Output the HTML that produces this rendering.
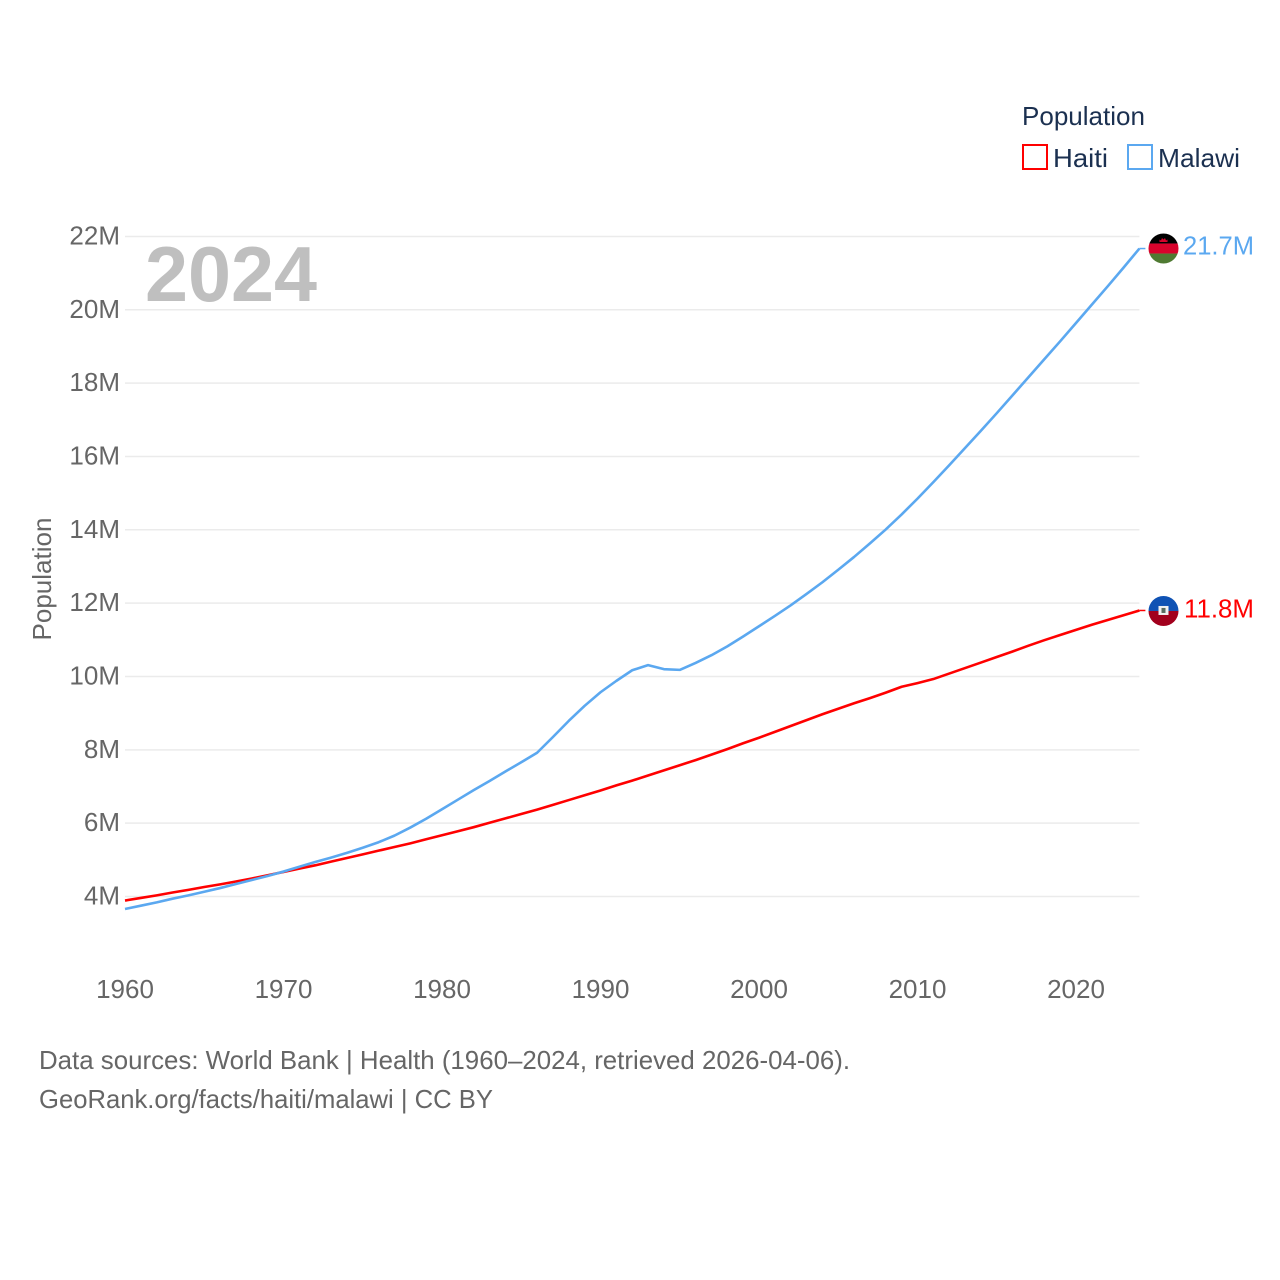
<!DOCTYPE html>
<html lang="en">
<head>
<meta charset="utf-8">
<title>Population: Haiti and Malawi</title>
<style>
html,body{margin:0;padding:0;background:#fff;}
svg{display:block;font-family:"Liberation Sans",sans-serif;}
</style>
</head>
<body>
<svg id="chart" xmlns="http://www.w3.org/2000/svg" width="1280" height="1280" viewBox="0 0 1280 1280">
  <defs>
    <clipPath id="flag-clip"><circle cx="0" cy="0" r="15"></circle></clipPath>
  </defs>
  <rect x="0" y="0" width="1280" height="1280" fill="#fff"></rect>

  <g id="grid"></g>
  <g id="yticks"></g>
  <g id="xticks"></g>

  <text x="145" y="301" font-size="78" font-weight="700" fill="#bfbfbf" textLength="172" lengthAdjust="spacingAndGlyphs">2024</text>
  <text transform="translate(51,579) rotate(-90)" text-anchor="middle" font-size="26" fill="#666" textLength="123" lengthAdjust="spacingAndGlyphs">Population</text>

  <g id="series"></g>

  <g>
    <text x="1022" y="125" font-size="26" fill="#1b3050" textLength="123" lengthAdjust="spacingAndGlyphs">Population</text>
    <g>
      <rect x="1023" y="145" width="24" height="24" fill="#fff" stroke="#ff0000" stroke-width="2"></rect>
      <text x="1053" y="167" font-size="26" fill="#1b3050" textLength="55" lengthAdjust="spacingAndGlyphs">Haiti</text>
    </g>
    <g>
      <rect x="1128" y="145" width="24" height="24" fill="#fff" stroke="#5ba8f0" stroke-width="2"></rect>
      <text x="1158" y="167" font-size="26" fill="#1b3050" textLength="82" lengthAdjust="spacingAndGlyphs">Malawi</text>
    </g>
  </g>

  <g id="flag-malawi">
    <g clip-path="url(#flag-clip)">
      <rect x="-15" y="-15" width="30" height="10" fill="#000"></rect>
      <rect x="-15" y="-5" width="30" height="10" fill="#d8032c"></rect>
      <rect x="-15" y="5" width="30" height="10" fill="#4f7a32"></rect>
      <path d="M-4-6.5h8v-2.500l-1.500,1-1-2.500-1.500,1.500-1.500-1.500-1,2.500-1.500-1z" fill="#d8032c"></path>
    </g>
  </g>
  <g id="flag-haiti">
    <g clip-path="url(#flag-clip)">
      <rect x="-15" y="-15" width="30" height="15" fill="#0f52b4"></rect>
      <rect x="-15" y="0" width="30" height="15" fill="#a2001d"></rect>
      <rect x="-5" y="-5" width="10" height="9" fill="#f0f0f0"></rect>
      <rect x="-2" y="-3" width="4" height="5" fill="#5a6b60"></rect>
    </g>
  </g>

  <text id="label-malawi" x="1183" font-size="26" fill="#5ba8f0" textLength="71" lengthAdjust="spacingAndGlyphs">21.7M</text>
  <text id="label-haiti" x="1184" font-size="26" fill="#ff0000" textLength="70" lengthAdjust="spacingAndGlyphs">11.8M</text>

  <g>
    <text x="39" y="1069" font-size="26" fill="#666" textLength="811" lengthAdjust="spacingAndGlyphs">Data sources: World Bank | Health (1960–2024, retrieved 2026-04-06).</text>
    <text x="39" y="1108" font-size="26" fill="#666" textLength="454" lengthAdjust="spacingAndGlyphs">GeoRank.org/facts/haiti/malawi | CC BY</text>
  </g>
</svg>
<script>
const firstYear = 1960;
const yTickValues = [4, 6, 8, 10, 12, 14, 16, 18, 20, 22];
const xTickYears = [1960, 1970, 1980, 1990, 2000, 2010, 2020];
const haitiValues = [3.89,3.96,4.03,4.11,4.18,4.26,4.33,4.41,4.49,4.58,4.67,4.76,4.85,4.95,5.05,5.15,5.25,5.35,5.45,5.56,5.67,5.78,5.89,6.01,6.13,6.25,6.37,6.50,6.63,6.76,6.89,7.03,7.16,7.30,7.44,7.58,7.72,7.87,8.02,8.18,8.33,8.49,8.65,8.81,8.97,9.12,9.27,9.41,9.56,9.72,9.82,9.93,10.08,10.23,10.38,10.53,10.68,10.84,10.99,11.13,11.27,11.41,11.54,11.67,11.80];
const malawiValues = [3.66,3.75,3.84,3.94,4.03,4.13,4.23,4.34,4.45,4.56,4.68,4.81,4.94,5.06,5.19,5.33,5.48,5.66,5.88,6.12,6.38,6.64,6.90,7.15,7.41,7.66,7.92,8.35,8.79,9.20,9.57,9.88,10.17,10.31,10.20,10.18,10.37,10.58,10.82,11.09,11.37,11.65,11.94,12.25,12.57,12.91,13.26,13.63,14.01,14.42,14.85,15.30,15.76,16.23,16.70,17.18,17.67,18.16,18.65,19.14,19.64,20.14,20.64,21.15,21.67];

const NS = 'http://www.w3.org/2000/svg';
const xScale = function (year) { return 125 + (year - 1960) * 15.85; };
const yScale = function (v) { return 896.5 - (v - 4) * 36.67; };
const gridEnd = xScale(2024);

function make(tag, parentId) {
  const el = document.createElementNS(NS, tag);
  document.getElementById(parentId).appendChild(el);
  return el;
}

yTickValues.forEach(function (v) {
  const line = make('line', 'grid');
  
  
  line.setAttribute('x1', 125);
  line.setAttribute('x2', gridEnd);
  line.setAttribute('y1', yScale(v));
  line.setAttribute('y2', yScale(v));
  line.setAttribute('stroke', '#ebebeb');
  line.setAttribute('stroke-width', '1.5');

  const label = make('text', 'yticks');
  
  
  label.setAttribute('x', 120);
  label.setAttribute('y', yScale(v) + 8);
  label.setAttribute('text-anchor', 'end');
  label.setAttribute('font-size', '26');
  label.setAttribute('fill', '#666');
  label.textContent = v + 'M';
});

xTickYears.forEach(function (year) {
  const label = make('text', 'xticks');
  
  
  label.setAttribute('x', xScale(year));
  label.setAttribute('y', 998);
  label.setAttribute('text-anchor', 'middle');
  label.setAttribute('font-size', '26');
  label.setAttribute('fill', '#666');
  label.textContent = year;
});

function drawSeries(values, color) {
  let d = '';
  values.forEach(function (v, i) {
    d += (i ? 'L' : 'M') + xScale(firstYear + i).toFixed(2) + ' ' + yScale(v).toFixed(2);
  });
  const path = make('path', 'series');
  path.setAttribute('d', d);
  path.setAttribute('fill', 'none');
  path.setAttribute('stroke', color);
  path.setAttribute('stroke-width', '2.6');
  path.setAttribute('stroke-linejoin', 'round');
  return path;
}

function drawConnector(values, color) {
  const lastY = yScale(values[values.length - 1]);
  const line = make('line', 'series');
  line.setAttribute('x1', gridEnd);
  line.setAttribute('x2', gridEnd + 6);
  line.setAttribute('y1', lastY);
  line.setAttribute('y2', lastY);
  line.setAttribute('stroke', color);
  line.setAttribute('stroke-width', '1.5');
  return line;
}

const haitiLine = drawSeries(haitiValues, '#ff0000');


const malawiLine = drawSeries(malawiValues, '#5ba8f0');


const haitiConnector = drawConnector(haitiValues, '#ff0000');


const malawiConnector = drawConnector(malawiValues, '#5ba8f0');



const haitiEndY = yScale(haitiValues[haitiValues.length - 1]);
const malawiEndY = yScale(malawiValues[malawiValues.length - 1]);
document.getElementById('flag-haiti').setAttribute('transform', 'translate(1163.5,' + (haitiEndY + 0.5) + ')');
document.getElementById('flag-malawi').setAttribute('transform', 'translate(1163.5,' + malawiEndY + ')');
document.getElementById('label-haiti').setAttribute('y', haitiEndY + 7);
document.getElementById('label-malawi').setAttribute('y', malawiEndY + 6);
</script>
</body>
</html>
